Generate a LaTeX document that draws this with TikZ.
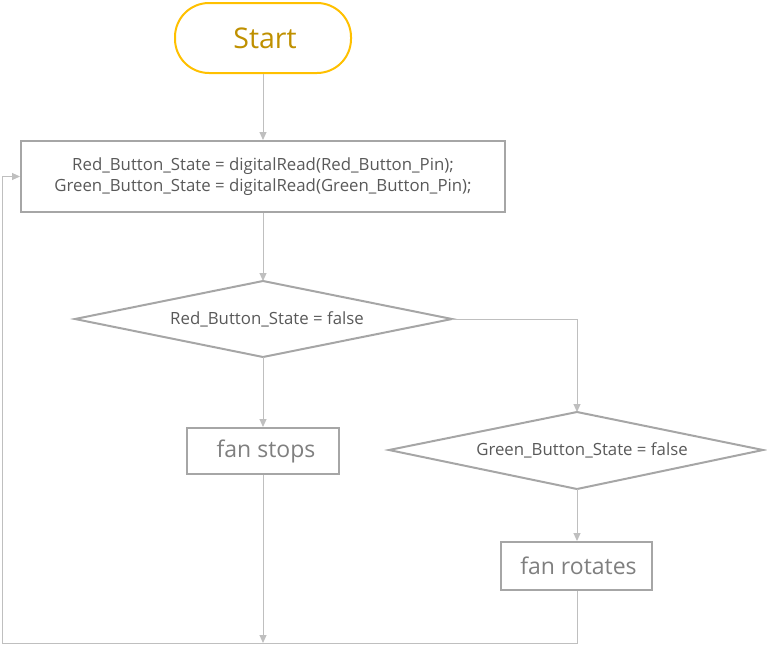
\documentclass[tikz,border=0pt]{standalone}
\usepackage{fontspec}
\setmainfont{Open Sans}
\usetikzlibrary{arrows.meta,shapes.geometric}
\definecolor{startline}{HTML}{FFC000}
\definecolor{starttext}{HTML}{BF9000}
\definecolor{boxline}{HTML}{A6A6A6}
\definecolor{conn}{HTML}{BFBFBF}
\definecolor{txt}{HTML}{595959}
\definecolor{txtlight}{HTML}{7F7F7F}
\tikzset{
  startbox/.style={draw=startline, line width=2pt, rounded corners=34pt, minimum width=176pt, minimum height=70pt, text=starttext, font=\fontsize{28.5}{32}\selectfont, inner sep=0pt},
  procbox/.style={draw=boxline, line width=2pt, inner sep=0pt},
  smalltext/.style={text=txt, font=\fontsize{16.8}{21.7}\selectfont},
  bigtext/.style={text=txtlight, font=\fontsize{23}{26}\selectfont},
  decline/.style={draw=boxline, line width=2pt},
  conn/.style={draw=conn, line width=1pt, -{Triangle[width=7pt,length=8pt]}},
}
\begin{document}
\begin{tikzpicture}[x=1pt,y=-1pt]
\useasboundingbox (0,0) rectangle (767,645);
\node[startbox] (start) at (263,38) {\hspace{4pt}Start};
\node[procbox, smalltext, minimum width=484pt, minimum height=71pt, align=center] (read) at (263,176.5) {Red\_Button\_State = digitalRead(Red\_Button\_Pin);\\Green\_Button\_State = digitalRead(Green\_Button\_Pin);};
\coordinate (d1t) at (263,281);
\coordinate (d1b) at (263,357);
\coordinate (d1r) at (452,319);
\coordinate (d1l) at (75,319);
\draw[decline] (d1l) -- (d1t) -- (d1r) -- (d1b) -- cycle;
\node[inner sep=0pt, smalltext] (d1) at (267,319) {Red\_Button\_State = false};
\coordinate (d2t) at (577,412);
\coordinate (d2b) at (577,489);
\coordinate (d2l) at (389,450);
\coordinate (d2r) at (763,450);
\draw[decline] (d2l) -- (d2t) -- (d2r) -- (d2b) -- cycle;
\node[inner sep=0pt, smalltext] (d2) at (582,450) {Green\_Button\_State = false};
\node[procbox, bigtext, minimum width=152pt, minimum height=46pt] (stop) at (263,451) {\hspace{6pt}fan stops};
\node[procbox, bigtext, minimum width=151pt, minimum height=48pt] (rot) at (576.5,566) {\hspace{4pt}fan rotates};
\coordinate (bl) at (2,643);
\coordinate (br) at (577,643);
\coordinate (bm) at (263,643);
\coordinate (lt) at (2,176.5);
\draw[conn] (start.south) -- (read.north);
\draw[conn] (read.south) -- (d1t);
\draw[conn] (d1b) -- (stop.north);
\draw[conn] (d1r) -| (d2t);
\draw[conn] (d2b) -- (rot.north -| d2b);
\draw[conn] (stop.south) -- (bm);
\draw[conn] (rot.south -| br) -- (br) -- (bl) -- (lt) -- (read.west);
\end{tikzpicture}
\end{document}
